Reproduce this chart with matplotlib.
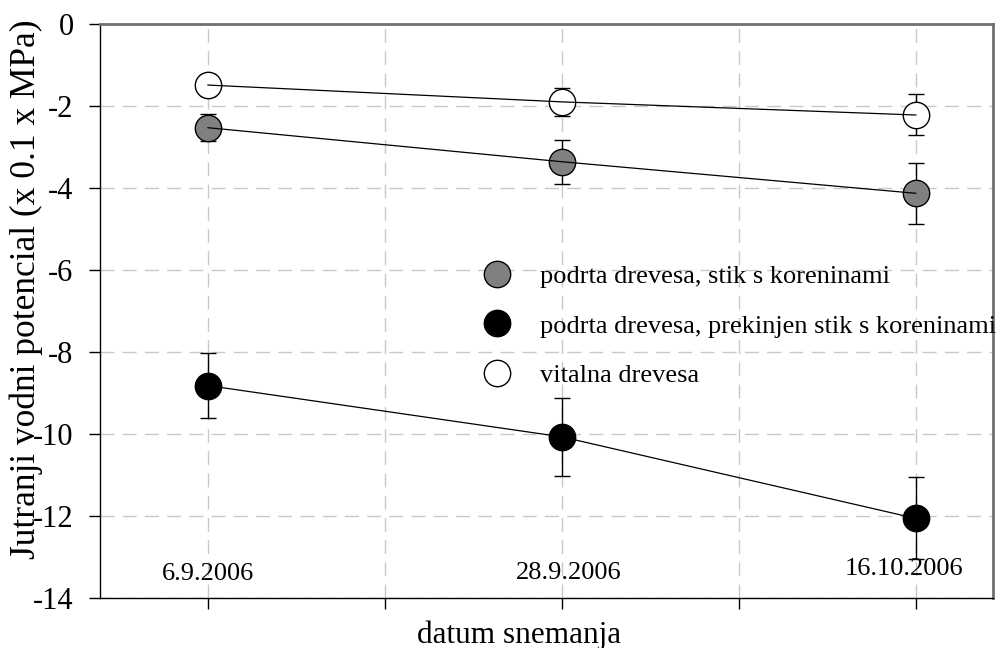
import numpy as np
import matplotlib.pyplot as plt
from matplotlib.lines import Line2D

plt.rcParams['font.family'] = ['Liberation Serif', 'DejaVu Serif']

dates = ["6.9.2006", "28.9.2006", "16.10.2006"]
labels = ["podrta drevesa, stik s koreninami",
          "podrta drevesa, prekinjen stik s koreninami",
          "vitalna drevesa"]

# morning water potential (x 0.1 MPa)
gray_vals = [-2.53, -3.36, -4.13]
gray_err = [0.33, 0.54, 0.74]
black_vals = [-8.82, -10.07, -12.06]
black_err = [0.8, 0.95, 1.0]
white_vals = [-1.49, -1.90, -2.22]
white_err = [0.27, 0.35, 0.5]

x = np.arange(len(dates))

fig = plt.figure(figsize=(10.03, 6.48), dpi=100)
ax = fig.add_axes([0.0997, 0.0772, 0.8903, 0.8858])

series = [
    (gray_vals, gray_err, "#808080"),
    (black_vals, black_err, "black"),
    (white_vals, white_err, "white"),
]
for vals, err, fc in series:
    ax.errorbar(x, vals, yerr=err, fmt="none", ecolor="black", elinewidth=1,
                capsize=6, capthick=1, zorder=2)
    ax.plot(x, vals, "o", ms=19, mfc=fc, mec="black", mew=1, zorder=3)
    ax.plot(x, vals, "-", color="black", lw=0.9, zorder=4)

ax.set_xlim(-0.305, 2.218)
ax.set_ylim(-14, 0)
ax.set_yticks(np.arange(-14, 1, 2))
ax.set_yticklabels([str(v) for v in range(-14, 1, 2)])
ax.set_xticks([0, 0.5, 1, 1.5, 2])
ax.set_xticklabels([])
ax.tick_params(axis="y", labelsize=22, length=8, width=1, direction="out", pad=11)
ax.tick_params(axis="x", length=8, width=1, direction="out")
ax.grid(True, color="#c8c8c8", linestyle=(0, (10, 6)), linewidth=1)
ax.set_axisbelow(True)

for s in ["top", "right"]:
    ax.spines[s].set_color("#707070")
    ax.spines[s].set_linewidth(2)
for s in ["left", "bottom"]:
    ax.spines[s].set_color("black")
    ax.spines[s].set_linewidth(1)

# date labels sit inside the axes, near the bottom
date_pos = [(0.0, -13.42), (1.02, -13.4), (1.966, -13.3)]
for (xp, yp), d in zip(date_pos, dates):
    ax.text(xp, yp, d, ha="center", va="center", fontsize=19, zorder=5)

ax.set_ylabel("Jutranji vodni potencial (x 0.1 x MPa)", fontsize=25.5)
ax.yaxis.set_label_coords(-0.064, 0.537)
ax.set_xlabel("datum snemanja", fontsize=22.5)
ax.xaxis.label.set_va("baseline")
ax.xaxis.set_label_coords(0.469, -0.078)

handles = [Line2D([], [], ls="none", marker="o", ms=19, mfc=fc, mec="black", mew=1)
           for _, _, fc in series]
ax.legend(handles, labels, loc="upper left", bbox_to_anchor=(0.413, 0.599),
          frameon=False, fontsize=19, labelspacing=0.98, handletextpad=1.0,
          borderaxespad=0, handlelength=1.3)

fig.savefig("out.png", dpi=100)
